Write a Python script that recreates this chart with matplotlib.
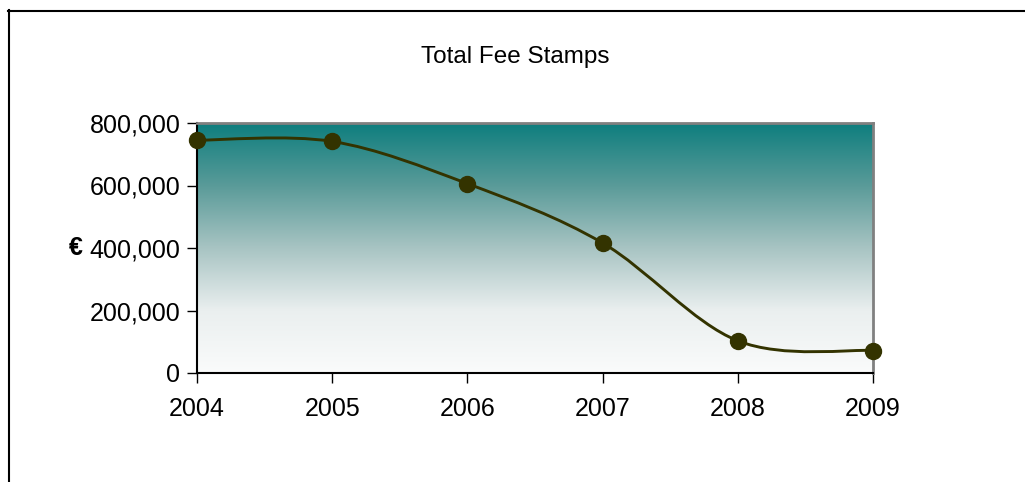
import numpy as np
import matplotlib
matplotlib.use("Agg")
import matplotlib.pyplot as plt
from matplotlib.path import Path
from matplotlib.patches import PathPatch
from matplotlib.ticker import FuncFormatter
from matplotlib.lines import Line2D
from matplotlib.colors import LinearSegmentedColormap

plt.rcParams['font.family'] = ['Liberation Sans', 'DejaVu Sans']

years = [2004, 2005, 2006, 2007, 2008, 2009]
fees = [745000, 741000, 606000, 416000, 103000, 72000]
title = "Total Fee Stamps"
line_col = "#333300"

fig = plt.figure(figsize=(10.25, 4.82), dpi=100)
ax = fig.add_axes([197/1025, 1-373/482, 676/1025, 250/482])

# gradient background
cmap = LinearSegmentedColormap.from_list("g", [(0, "#fafbfb"), (0.25, "#eaefef"),
                                               (0.5, "#a8c4c3"), (0.75, "#5a9b99"),
                                               (1, "#0e7e7e")])
grad = np.linspace(0, 1, 256).reshape(-1, 1)
ax.imshow(grad, cmap=cmap, aspect="auto", origin="lower",
          extent=[2004, 2009, 0, 800000], zorder=0)

# smoothed line like excel (bezier through points)
x = np.array(years, dtype=float)
y = np.array(fees, dtype=float)
verts = [(x[0], y[0])]
codes = [Path.MOVETO]
n = len(x)
for i in range(n-1):
    p0 = (x[max(i-1, 0)], y[max(i-1, 0)])
    p1 = (x[i], y[i])
    p2 = (x[i+1], y[i+1])
    p3 = (x[min(i+2, n-1)], y[min(i+2, n-1)])
    c1 = (p1[0] + (p2[0]-p0[0])/6, p1[1] + (p2[1]-p0[1])/6)
    c2 = (p2[0] - (p3[0]-p1[0])/6, p2[1] - (p3[1]-p1[1])/6)
    verts += [c1, c2, p2]
    codes += [Path.CURVE4]*3
ax.add_patch(PathPatch(Path(verts, codes), facecolor="none", edgecolor=line_col,
                       lw=2.1, zorder=3, clip_on=False))
ax.plot(years, fees, "o", color=line_col, ms=11.5, zorder=4, clip_on=False)

ax.set_xlim(2004, 2009)
ax.set_ylim(0, 800000)
ax.set_xticks(years)
ax.set_yticks([0, 200000, 400000, 600000, 800000])
ax.yaxis.set_major_formatter(FuncFormatter(lambda v, p: f"{v:,.0f}"))
ax.tick_params(labelsize=18, length=7, width=1, color="black", pad=5)
ax.tick_params(axis="x", pad=10)
for s in ["top", "right"]:
    ax.spines[s].set_color("#808080")
    ax.spines[s].set_linewidth(2)
for s in ["left", "bottom"]:
    ax.spines[s].set_color("black")
    ax.spines[s].set_linewidth(1.5)

fig.text(515/1025, 1-57/482, title, ha="center", va="center", fontsize=17.5)
fig.text(76/1025, 1-248/482, "€", ha="center", va="center", fontsize=18, fontweight="bold")

# outer chart frame
fig.add_artist(Line2D([8.5/1025, 8.5/1025], [0, 1-10/482], color="black", lw=1.5, transform=fig.transFigure))
fig.add_artist(Line2D([8/1025, 1], [1-10.5/482, 1-10.5/482], color="black", lw=1.5, transform=fig.transFigure))

fig.savefig("out.png", dpi=100)
